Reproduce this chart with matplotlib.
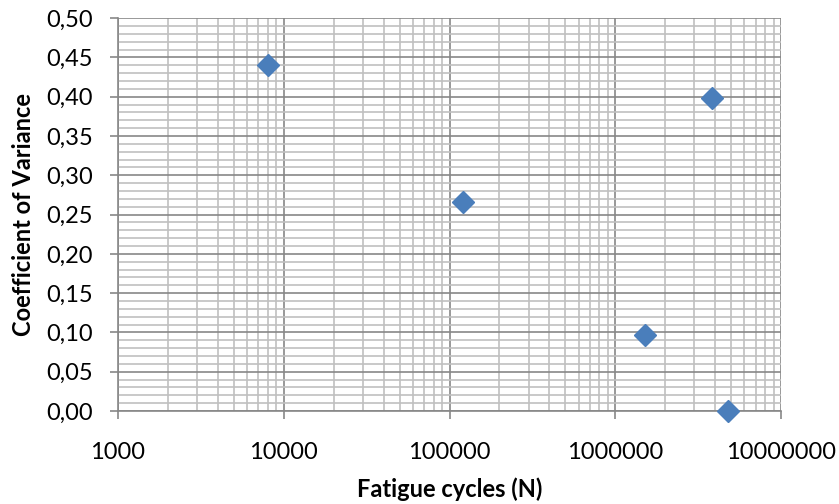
import matplotlib
matplotlib.use("Agg")
import matplotlib.pyplot as plt
from matplotlib.ticker import FixedLocator, FuncFormatter, LogLocator, NullFormatter, MultipleLocator

# Fatigue cycles and coefficient of variance
cycles = [8000, 120000, 3800000, 1500000, 4800000]
cov = [0.44, 0.266, 0.398, 0.097, 0.0]

x_ticks = [1000, 10000, 100000, 1000000, 10000000]
x_tick_labels = ["1000", "10000", "100000", "1000000", "10000000"]

plt.rcParams['font.family'] = ['Lato', 'DejaVu Sans']

fig = plt.figure(figsize=(8.39, 5.04), dpi=100)
ax = fig.add_axes([0.1406, 0.1845, 0.7905, 0.7795])

ax.set_xscale('log')
ax.set_xlim(1000, 10000000)
ax.set_ylim(0, 0.5)

ax.xaxis.set_major_locator(FixedLocator(x_ticks))
ax.xaxis.set_major_formatter(FuncFormatter(lambda v, p: x_tick_labels[x_ticks.index(min(x_ticks, key=lambda t: abs(t - v)))]))
ax.xaxis.set_minor_locator(LogLocator(base=10, subs=range(2, 10)))
ax.xaxis.set_minor_formatter(NullFormatter())

ax.yaxis.set_major_locator(MultipleLocator(0.05))
ax.yaxis.set_minor_locator(MultipleLocator(0.01))
ax.yaxis.set_major_formatter(FuncFormatter(lambda v, p: f"{v:.2f}".replace('.', ',')))

ax.grid(which='major', color='#878787', linewidth=1.2)
ax.grid(which='minor', color='#c0c0c0', linewidth=1.2)
ax.set_axisbelow(True)

for s in ('top', 'right'):
    ax.spines[s].set_visible(False)
for s in ('left', 'bottom'):
    ax.spines[s].set_color('#878787')
    ax.spines[s].set_linewidth(1.2)

ax.tick_params(which='major', length=6, width=1.2, color='#878787', labelsize=17, labelcolor='black')
ax.tick_params(axis='x', pad=16)
ax.tick_params(axis='y', pad=12)
ax.tick_params(which='minor', length=0)

ax.plot(cycles, cov, linestyle='none', marker='D', markersize=11.5,
        color='#4A7EBB', markeredgecolor='#4A7EBB', clip_on=False, zorder=5)

ax.set_xlabel('Fatigue cycles (N)', fontsize=17, fontweight='bold', labelpad=11)
ax.set_ylabel('Coefficient of Variance', fontsize=17, fontweight='bold', labelpad=8)

fig.savefig('out.png', dpi=100)
